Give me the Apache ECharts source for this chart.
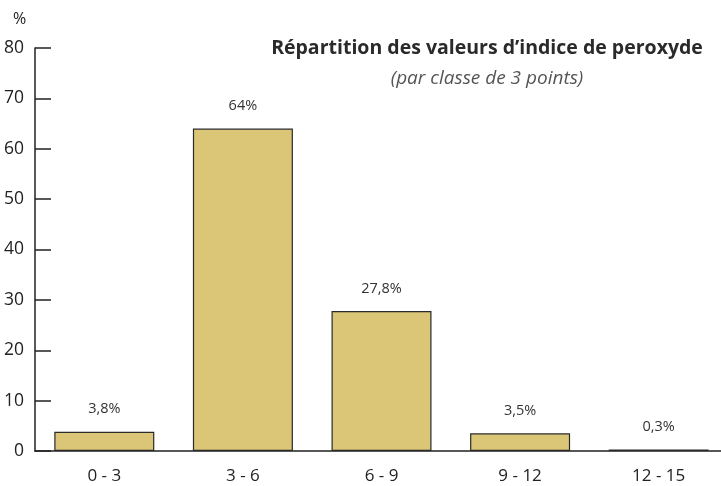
<!DOCTYPE html>
<html><head><meta charset="utf-8">
<script src="https://cdn.jsdelivr.net/npm/echarts@6/dist/echarts.min.js"></script>
<style>html,body{margin:0;padding:0;background:#fff}#c{width:721px;height:486px}</style>
</head><body><div id="c"></div>
<script>
const categories = ['0 - 3', '3 - 6', '6 - 9', '9 - 12', '12 - 15'];
const values = [3.8, 64, 27.8, 3.5, 0.3];
const yMin = 0, yMax = 80, yStep = 10;
const titleText = 'Répartition des valeurs d\u2019indice de peroxyde';
const subtitleText = '(par classe de 3 points)';
const unitText = '%';

const chart = echarts.init(document.getElementById('c'));
const FONT = '"Open Sans", sans-serif';
chart.setOption({
  animation: false,
  backgroundColor: '#fff',
  title: {
    text: titleText,
    subtext: subtitleText,
    left: 482, top: 33, textAlign: 'center',
    itemGap: 11,
    textStyle: {fontFamily: FONT, fontSize: 19.5, fontWeight: 'bold', color: '#2a2a2a'},
    subtextStyle: {fontFamily: FONT, fontSize: 19, fontStyle: 'italic', color: '#555'}
  },
  graphic: [{
    type: 'text', left: 13, top: 11,
    style: {text: unitText, font: '16px "Open Sans", sans-serif', fill: '#222'}
  }],
  grid: {left: 35, top: 48, bottom: 35, right: -7, outerBoundsMode: 'none', containLabel: false},
  xAxis: {
    type: 'category', data: categories, boundaryGap: true,
    axisLine: {lineStyle: {color: '#222', width: 1.5}},
    axisTick: {inside: true, length: 10, lineStyle: {color: '#222', width: 1.5}},
    axisLabel: {margin: 17, fontFamily: FONT, fontSize: 17, color: '#222'}
  },
  yAxis: {
    type: 'value', min: yMin, max: yMax, interval: yStep,
    splitLine: {show: false},
    axisLine: {show: true, lineStyle: {color: '#222', width: 1.5}},
    axisTick: {show: true, inside: true, length: 16, lineStyle: {color: '#222', width: 1.5}},
    axisLabel: {margin: 11, fontFamily: FONT, fontSize: 17.5, color: '#222'}
  },
  series: [{
    type: 'bar', data: values, barWidth: 100,
    itemStyle: {color: '#dbc677', borderColor: '#2a2a2a', borderWidth: 1.2},
    label: {
      show: true, position: 'top', distance: 15,
      fontFamily: FONT, fontSize: 14.5, color: '#333',
      formatter: p => String(p.value).replace('.', ',') + '%'
    }
  }]
});
</script></body></html>
